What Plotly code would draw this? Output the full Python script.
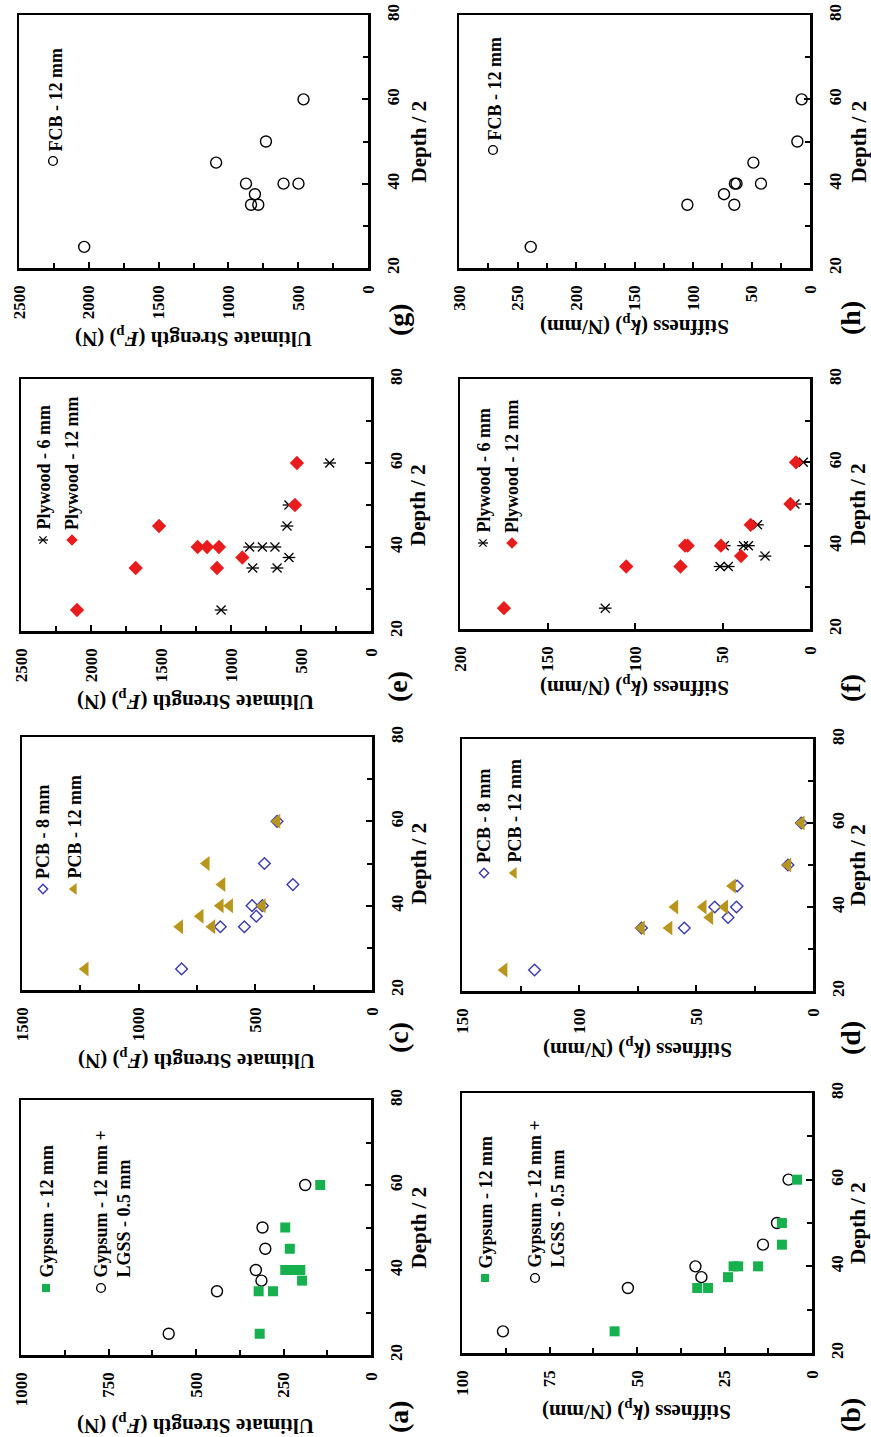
import plotly.graph_objects as go

# ---------------- data ----------------
depth_axis_range = [20, 80]

# Gypsum (panels a, b)
depth_gyp12 = [25, 35, 35, 37.5, 40, 40, 40, 45, 50, 60]
Fp_gyp12 = [318, 321, 280, 197, 245, 223, 202, 232, 245, 145]
kp_gyp12 = [56.4, 32.8, 29.7, 24.0, 22.4, 21.1, 15.4, 8.6, 8.6, 4.3]
depth_gypL = [25, 35, 37.5, 40, 45, 50, 60]
Fp_gypL = [578, 440, 313, 329, 302, 310, 188]
kp_gypL = [88.3, 52.6, 31.6, 33.3, 14.0, 10.0, 6.7]

# PCB (panels c, d)
depth_pcb8 = [25, 35, 35, 37.5, 40, 40, 45, 50, 60]
Fp_pcb8 = [816, 650, 547, 496, 514, 470, 339, 461, 407]
kp_pcb8 = [119, 73.3, 55, 36.3, 42, 32.7, 32.4, 10.7, 5.0]
depth_pcb12 = [25, 35, 35, 37.5, 40, 40, 40, 45, 50, 60]
Fp_pcb12 = [1229, 824, 686, 736, 650, 610, 470, 643, 710, 407]
kp_pcb12 = [132, 73.3, 61.5, 44.1, 59, 46.9, 37.7, 34.4, 10.7, 5.0]

# Plywood (panels e, f)
depth_ply = [25, 35, 35, 37.5, 40, 40, 40, 45, 50, 60]
Fp_ply6 = [1071, 845, 671, 586, 867, 776, 686, 600, 586, 295]
kp_ply6 = [117, 51.4, 46.7, 25.7, 49, 38, 35.2, 30, 8.6, 3.8]
Fp_ply12 = [2100, 1681, 1100, 919, 1238, 1171, 1086, 1514, 543, 529]
kp_ply12 = [174.9, 105, 74, 39.4, 71.4, 69.9, 50.9, 33.9, 11.2, 8.0]

# FCB (panels g, h)
depth_fcb = [25, 35, 35, 37.5, 40, 40, 40, 45, 50, 60]
Fp_fcb = [2033, 838, 786, 810, 874, 605, 498, 1088, 731, 462]
kp_fcb = [238.7, 104.8, 64.7, 73.5, 64.2, 62.8, 41.9, 48.4, 10.8, 7.1]

# ---------------- styles ----------------
W, H = 871, 1437
OFF = 0
FONT = "Liberation Serif"
GREEN = "#17b04f"
RED = "#e81c1c"
GOLD = "#b8961c"
BLUE = "#3a3ab0"

STY = {
    "gyp12": [dict(symbol="square", size=10, color=GREEN)],
    "gypL": [dict(symbol="circle-open", size=11, color="black", line=dict(width=1.4))],
    "pcb8": [dict(symbol="diamond-open", size=9, color=BLUE, line=dict(width=1.4))],
    "pcb12": [dict(symbol="triangle-left", size=13, color=GOLD)],
    "ply6": [dict(symbol="x-thin-open", size=9, color="black", line=dict(width=1.3)),
             dict(symbol="line-ew-open", size=9, color="black", line=dict(width=1.3))],
    "ply12": [dict(symbol="diamond", size=11, color=RED)],
    "fcb": [dict(symbol="circle-open", size=11, color="black", line=dict(width=1.4))],
}

F_TITLE = "Ultimate Strength (<i>F</i><sub>p</sub>) (N)"
K_TITLE = "Stiffness (<i>k</i><sub>p</sub>) (N/mm)"

# panel: label, box page pixels (x0, x1, y0, y1), value max, major, minor, kind, series, legend
panels = [
    dict(label="(g)", box=(19, 368, 15, 268), vmax=2500, major=500, minor=250, kind="F", col=0, laby=320,
         series=[(depth_fcb, Fp_fcb, "fcb")],
         legend=[("fcb", "FCB - 12 mm", (53, 161), 55)]),
    dict(label="(h)", box=(459, 810, 15, 268), vmax=300, major=50, minor=25, kind="k", col=1, laby=318,
         series=[(depth_fcb, kp_fcb, "fcb")],
         legend=[("fcb", "FCB - 12 mm", (493, 150), 495)]),
    dict(label="(e)", box=(21, 371, 379, 631), vmax=2500, major=500, minor=250, kind="F", col=0, laby=687,
         series=[(depth_ply, Fp_ply6, "ply6"), (depth_ply, Fp_ply12, "ply12")],
         legend=[("ply6", "Plywood - 6 mm", (43, 540), 43), ("ply12", "Plywood - 12 mm", (72, 540), 72)]),
    dict(label="(f)", box=(460, 810, 379, 629), vmax=200, major=50, minor=None, kind="k", col=1, laby=688,
         series=[(depth_ply, kp_ply6, "ply6"), (depth_ply, kp_ply12, "ply12")],
         legend=[("ply6", "Plywood - 6 mm", (483, 543), 483), ("ply12", "Plywood - 12 mm", (512, 543), 512)]),
    dict(label="(c)", box=(22, 372, 737, 990), vmax=1500, major=500, minor=250, kind="F", col=0, laby=1038,
         series=[(depth_pcb8, Fp_pcb8, "pcb8"), (depth_pcb12, Fp_pcb12, "pcb12")],
         legend=[("pcb8", "PCB - 8 mm", (43, 889), 43), ("pcb12", "PCB - 12 mm", (74, 889), 74)]),
    dict(label="(d)", box=(462, 813, 739, 991), vmax=150, major=50, minor=25, kind="k", col=1, laby=1038,
         series=[(depth_pcb8, kp_pcb8, "pcb8"), (depth_pcb12, kp_pcb12, "pcb12")],
         legend=[("pcb8", "PCB - 8 mm", (484, 873), 484), ("pcb12", "PCB - 12 mm", (514, 873), 514)]),
    dict(label="(a)", box=(21, 371, 1100, 1355), vmax=1000, major=250, minor=125, kind="F", col=0, laby=1417,
         series=[(depth_gypL, Fp_gypL, "gypL"), (depth_gyp12, Fp_gyp12, "gyp12")],
         legend=[("gyp12", "Gypsum - 12 mm", (46, 1288), 46),
                 ("gypL", "Gypsum - 12 mm +<br>LGSS - 0.5 mm", (101, 1288), 112)]),
    dict(label="(b)", box=(462, 812, 1093, 1353), vmax=100, major=25, minor=12.5, kind="k", col=1, laby=1415,
         series=[(depth_gypL, kp_gypL, "gypL"), (depth_gyp12, kp_gyp12, "gyp12")],
         legend=[("gyp12", "Gypsum - 12 mm", (485, 1278), 485),
                 ("gypL", "Gypsum - 12 mm +<br>LGSS - 0.5 mm", (535, 1278), 546)]),
]

fig = go.Figure()
layout = dict(width=W, height=H, margin=dict(l=0, r=0, t=0, b=0, autoexpand=False),
              paper_bgcolor="white", plot_bgcolor="white", showlegend=False)
annotations = []


def px(x):
    return (x - OFF) / W


def py(y):
    return 1 - (y - OFF) / H


TICKFONT = dict(family=FONT, size=17, color="black", weight="bold")

for i, p in enumerate(panels, start=1):
    xa = "x" if i == 1 else f"x{i}"
    ya = "y" if i == 1 else f"y{i}"
    xk = "xaxis" if i == 1 else f"xaxis{i}"
    yk = "yaxis" if i == 1 else f"yaxis{i}"
    x0, x1, y0, y1 = p["box"]
    vmax = p["vmax"]

    minor = dict(ticks="")
    if p["minor"]:
        minor = dict(dtick=p["minor"], tick0=0, ticks="inside", ticklen=5, tickwidth=2, tickcolor="black")
    layout[xk] = dict(domain=[px(x0), px(x1)], anchor=ya, range=[vmax, 0], tick0=0, dtick=p["major"],
                      ticks="inside", ticklen=6, tickwidth=2, tickcolor="black", minor=minor,
                      showline=True, linewidth=2.5, linecolor="black", mirror=True,
                      showgrid=False, zeroline=False, tickangle=-90, ticklabelstandoff=8,
                      ticklabeloverflow="allow", tickfont=TICKFONT)
    layout[yk] = dict(domain=[py(y1), py(y0)], anchor=xa, range=depth_axis_range, tick0=0, dtick=20,
                      side="right", ticks="inside", ticklen=6, tickwidth=2, tickcolor="black",
                      minor=dict(dtick=10, tick0=0, ticks="inside", ticklen=5, tickwidth=2, tickcolor="black"),
                      showline=True, linewidth=2.5, linecolor="black", mirror=True,
                      showgrid=False, zeroline=False, tickangle=-90, ticklabelstandoff=8,
                      ticklabeloverflow="allow", tickfont=TICKFONT)

    for depth, vals, key in p["series"]:
        for m in STY[key]:
            fig.add_trace(go.Scatter(x=vals, y=depth, mode="markers", marker=m,
                                     xaxis=xa, yaxis=ya, hoverinfo="skip", cliponaxis=False))

    # legend: marker placed in axis units from its pixel position, text as rotated annotation
    for key, text, (mx, my), tx in p["legend"]:
        lx = vmax * (1 - (mx - x0) / (x1 - x0))
        ly = depth_axis_range[0] + (y1 - my) / (y1 - y0) * (depth_axis_range[1] - depth_axis_range[0])
        for m in STY[key]:
            mm = dict(m)
            mm["size"] = m["size"] * 0.8
            fig.add_trace(go.Scatter(x=[lx], y=[ly], mode="markers", marker=mm,
                                     xaxis=xa, yaxis=ya, hoverinfo="skip"))
        annotations.append(dict(x=px(tx), y=py(my - 8), xref="paper", yref="paper", text=text,
                                textangle=-90, xanchor="center", yanchor="bottom", align="left",
                                showarrow=False,
                                font=dict(family=FONT, size=18, color="black", weight="bold")))

    # axis titles
    tdy = 70 if p["kind"] == "F" else 58
    annotations.append(dict(x=px((x0 + x1) / 2), y=py(y1 + tdy), xref="paper", yref="paper",
                            text=F_TITLE if p["kind"] == "F" else K_TITLE, textangle=180,
                            xanchor="center", yanchor="middle", showarrow=False,
                            font=dict(family=FONT, size=21, color="black", weight="bold")))
    dx = 418 if p["col"] == 0 else 858
    annotations.append(dict(x=px(dx), y=py((y0 + y1) / 2), xref="paper", yref="paper",
                            text="Depth / 2", textangle=-90, xanchor="center", yanchor="middle",
                            showarrow=False,
                            font=dict(family=FONT, size=21, color="black", weight="bold")))
    lx_ = 398 if p["col"] == 0 else 850
    annotations.append(dict(x=px(lx_), y=py(p["laby"]), xref="paper", yref="paper",
                            text=p["label"], textangle=-90, xanchor="center", yanchor="middle",
                            showarrow=False,
                            font=dict(family=FONT, size=28, color="black", weight="bold")))

layout["annotations"] = annotations
fig.update_layout(**layout)
fig.write_html("out.html", config={"displayModeBar": False, "staticPlot": True},
               post_script="document.body.style.margin='0';document.body.style.overflow='hidden';")
